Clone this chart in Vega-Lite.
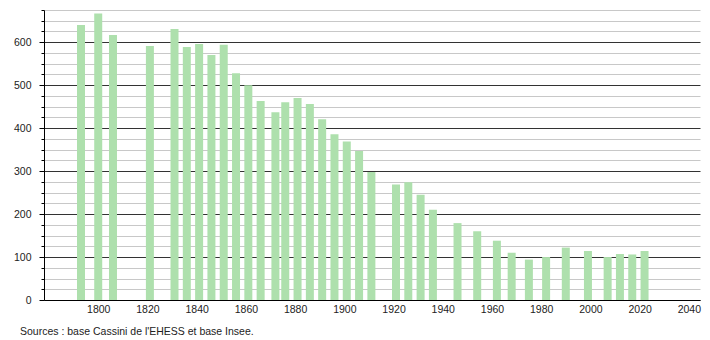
{
  "$schema": "https://vega.github.io/schema/vega-lite/v6.json",
  "width": 656,
  "height": 290,
  "autosize": {"type": "none"},
  "padding": {"left": 44, "top": 10, "right": 10, "bottom": 40},
  "background": "white",
  "config": {
    "view": {"stroke": null},
    "font": "Liberation Sans"
  },
  "title": {
    "text": "Sources : base Cassini de l'EHESS et base Insee.",
    "orient": "bottom",
    "anchor": "start",
    "frame": "group",
    "dx": -24,
    "offset": 12,
    "fontSize": 10.5,
    "fontWeight": "normal",
    "font": "Liberation Sans",
    "color": "#222222"
  },
  "data": {
    "values": [
      {"year": 1793, "pop": 640},
      {"year": 1800, "pop": 667},
      {"year": 1806, "pop": 617},
      {"year": 1821, "pop": 591},
      {"year": 1831, "pop": 631},
      {"year": 1836, "pop": 589},
      {"year": 1841, "pop": 596},
      {"year": 1846, "pop": 570},
      {"year": 1851, "pop": 594},
      {"year": 1856, "pop": 528},
      {"year": 1861, "pop": 500},
      {"year": 1866, "pop": 463},
      {"year": 1872, "pop": 437},
      {"year": 1876, "pop": 460},
      {"year": 1881, "pop": 470},
      {"year": 1886, "pop": 456},
      {"year": 1891, "pop": 421},
      {"year": 1896, "pop": 386},
      {"year": 1901, "pop": 369},
      {"year": 1906, "pop": 347},
      {"year": 1911, "pop": 298},
      {"year": 1921, "pop": 269},
      {"year": 1926, "pop": 274},
      {"year": 1931, "pop": 245},
      {"year": 1936, "pop": 210},
      {"year": 1946, "pop": 179},
      {"year": 1954, "pop": 160},
      {"year": 1962, "pop": 138},
      {"year": 1968, "pop": 110},
      {"year": 1975, "pop": 94},
      {"year": 1982, "pop": 100},
      {"year": 1990, "pop": 122},
      {"year": 1999, "pop": 114},
      {"year": 2007, "pop": 100},
      {"year": 2012, "pop": 107},
      {"year": 2017, "pop": 106},
      {"year": 2022, "pop": 114}
    ]
  },
  "mark": {"type": "bar", "width": 8, "color": "#aee0ad"},
  "encoding": {
    "x": {
      "field": "year",
      "type": "quantitative",
      "scale": {"domain": [1780, 2042.5], "nice": false, "zero": false},
      "axis": {
        "title": null,
        "values": [1800, 1820, 1840, 1860, 1880, 1900, 1920, 1940, 1960, 1980, 2000, 2020, 2040],
        "format": "d",
        "grid": false,
        "ticks": false,
        "domainColor": "#000000",
        "domainWidth": 1,
        "labelPadding": 4,
        "labelFontSize": 10.5,
        "labelColor": "#222222",
        "labelFlush": false
      }
    },
    "y": {
      "field": "pop",
      "type": "quantitative",
      "scale": {"domain": [0, 675], "nice": false},
      "axis": {
        "title": null,
        "values": [0, 25, 50, 75, 100, 125, 150, 175, 200, 225, 250, 275, 300, 325, 350, 375, 400, 425, 450, 475, 500, 525, 550, 575, 600, 625, 650, 675],
        "labelExpr": "datum.value % 100 === 0 ? datum.label : ''",
        "grid": true,
        "gridColor": {"condition": {"test": "datum.value % 100 === 0", "value": "#333333"}, "value": "#c8c8c8"},
        "gridWidth": 1,
        "tickColor": "#000000",
        "tickSize": {"condition": {"test": "datum.value % 100 === 0", "value": 5}, "value": 3},
        "domainColor": "#000000",
        "labelPadding": 8,
        "labelFontSize": 10.5,
        "labelColor": "#222222",
        "labelFlush": false
      }
    }
  }
}
